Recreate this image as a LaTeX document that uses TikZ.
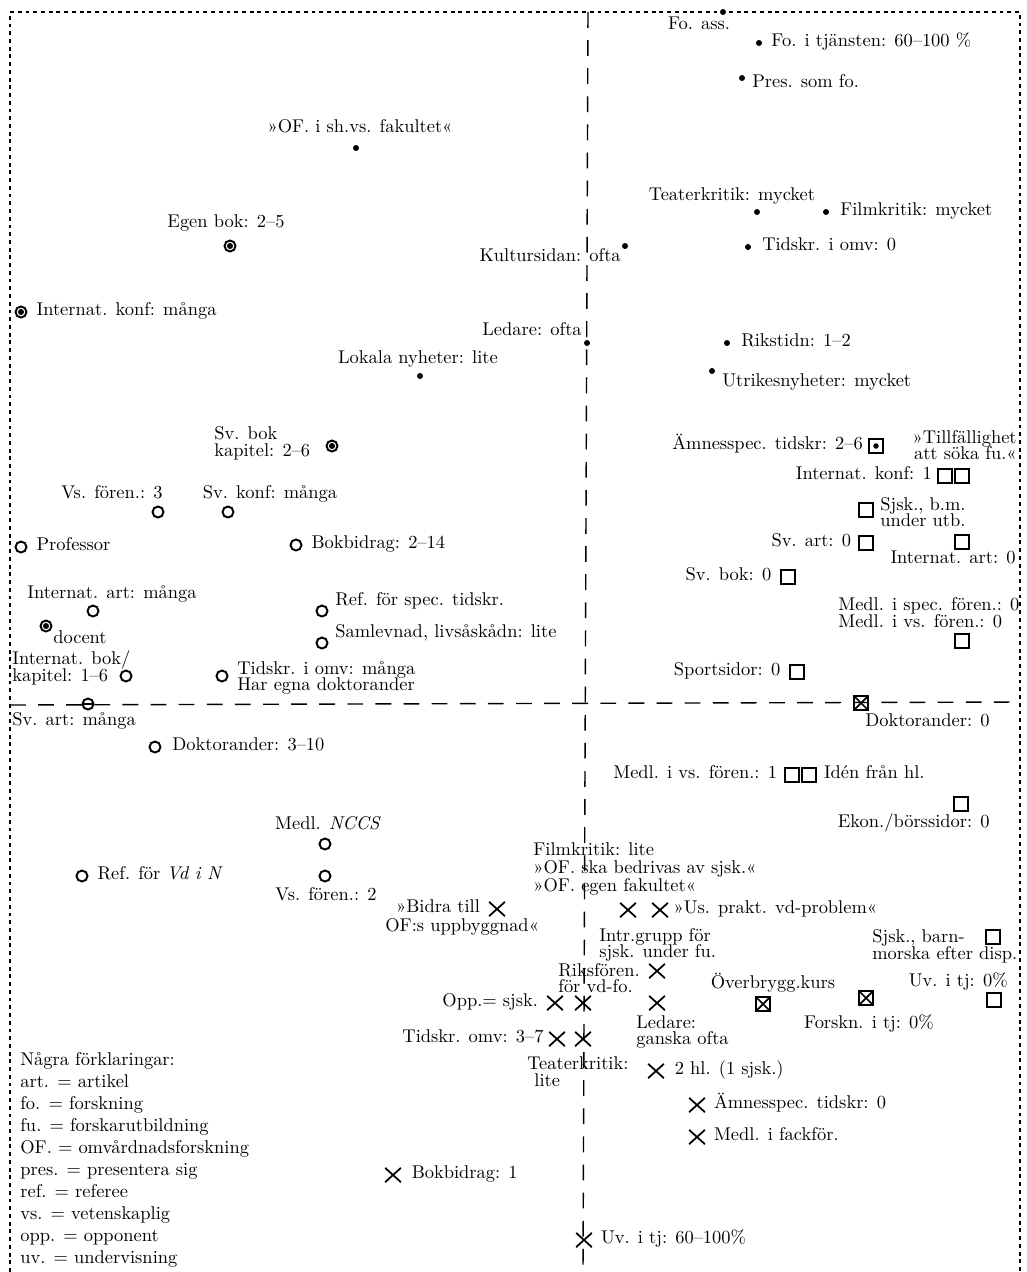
\documentclass[tikz,border=0pt]{standalone}
\usepackage{tikz}
\usetikzlibrary{positioning, shapes.misc}

\newcommand\labfont[1]{\fontsize{10.5}{#1}\selectfont\lineskiplimit=-20pt\relax}

\tikzset{
    lab/.style={inner sep=0pt, font=\labfont{9.5}, align=left},
    labr/.style={lab, anchor=mid west},
    labl/.style={lab, anchor=mid east},
    labc/.style={lab, anchor=mid},
    blockw/.style={lab, anchor=west},
    blocke/.style={lab, anchor=east, align=right},
    dotm/.style={circle, fill, inner sep=0pt, minimum size=0.12cm},
    circm/.style={circle, draw, line width=1.1pt, inner sep=0pt, minimum size=0.22cm},
    cdotm/.style={circm, path picture={\fill (path picture bounding box.center) circle (0.06cm);}},
    thetam/.style={circm, path picture={\draw[line width=1.1pt] (path picture bounding box.west) -- (path picture bounding box.east);}},
    sqm/.style={rectangle, draw, line width=1pt, inner sep=0pt, minimum size=0.27cm},
    sqdotm/.style={sqm, path picture={\fill (path picture bounding box.center) circle (0.055cm);}},
    sqxm/.style={sqm, path picture={\draw[line width=1pt] (path picture bounding box.south west) -- (path picture bounding box.north east) (path picture bounding box.north west) -- (path picture bounding box.south east);}},
    crossm/.style={cross out, draw, line width=1pt, inner sep=0pt, minimum width=0.28cm, minimum height=0.25cm},
    borderline/.style={line width=0.8pt, dash pattern=on 2.2pt off 2.2pt},
    axisline/.style={line width=0.8pt, dash pattern=on 9pt off 7pt}
}

\begin{document}
\begin{tikzpicture}[x=0.02cm, y=-0.02cm]
\useasboundingbox (0,0) rectangle (1027,1272);

% ram och axlar
\draw[borderline] (10,1272) -- (10,12) -- (1020,12) -- (1020,1272);
\draw[axisline] (588,12) -- (583,1272);
\draw[axisline] (10,705) -- (1020,702);

% övre högra kvadranten
\node[dotm] (foass) at (723,12) {};
\node[labc] (foassl) at (699,26) {Fo. ass.};
\node[dotm] (fotj) at (759,43) {};
\node[right=5pt of fotj, labr] (fotjl) {Fo. i tjänsten: 60–100 \%};
\node[dotm] (pres) at (742,78) {};
\node[labr] (presl) at (752,84) {Pres. som fo.};
\node[dotm] (teat) at (757,212) {};
\node[labc] (teatl) at (732,197) {Teaterkritik: mycket};
\node[dotm] (film) at (826,212) {};
\node[right=6pt of film, labr] (filml) {Filmkritik: mycket};
\node[dotm] (tidso) at (748,247) {};
\node[right=6pt of tidso, labr] (tidsol) {Tidskr. i omv: 0};
\node[dotm] (kult) at (625,246) {};
\node[labl] (kultl) at (621,258) {Kultursidan: ofta};
\node[dotm] (led) at (587,343) {};
\node[labl] (ledl) at (582,332) {Ledare: ofta};
\node[dotm] (riks) at (727,343) {};
\node[right=6pt of riks, labr] (riksl) {Rikstidn: 1–2};
\node[dotm] (utr) at (712,371) {};
\node[labr] (utrl) at (722,383) {Utrikesnyheter: mycket};
\node[sqdotm] (amn) at (876,446) {};
\node[left=3pt of amn, labl] (amnl) {Ämnesspec. tidskr: 2–6};
\node[blocke] (tillf) at (1017,445) {»Tillfällighet\\att söka fu.«};
\node[sqm] (ik1) at (945,476) {};
\node[sqm] (ik2) at (962,476) {};
\node[left=3pt of ik1, labl] (ikl) {Internat. konf: 1};
\node[sqm] (sjsk) at (866,510) {};
\node[blockw] (sjskl) at (880,512) {Sjsk., b.m.\\under utb.};
\node[sqm] (sva) at (866,543) {};
\node[left=4pt of sva, labl] (sval) {Sv. art: 0};
\node[sqm] (inta0) at (962,542) {};
\node[labl] (inta0l) at (1016,560) {Internat. art: 0};
\node[sqm] (svb0) at (788,577) {};
\node[left=5pt of svb0, labl] (svb0l) {Sv. bok: 0};
\node[sqm] (medl) at (962,641) {};
\node[blockw] (medll) at (838,613) {Medl. i spec. fören.: 0\\Medl. i vs. fören.: 0};
\node[sqm] (sport) at (797,672) {};
\node[left=5pt of sport, labl] (sportl) {Sportsidor: 0};

% övre vänstra kvadranten
\node[dotm] (ofsh) at (356,148) {};
\node[labc] (ofshl) at (360,129) {»OF. i sh.vs. fakultet«};
\node[cdotm] (egen) at (230,246) {};
\node[labc] (egenl) at (226,224) {Egen bok: 2–5};
\node[cdotm] (intk) at (21,312) {};
\node[right=5pt of intk, labr] (intkl) {Internat. konf: många};
\node[dotm] (lok) at (420,376) {};
\node[labc] (lokl) at (418,360) {Lokala nyheter: lite};
\node[cdotm] (svbok) at (332,446) {};
\node[blockw] (svbokl) at (214,443) {Sv. bok\\kapitel: 2–6};
\node[circm] (vsf3) at (158,512) {};
\node[labc] (vsf3l) at (112,495) {Vs. fören.: 3};
\node[circm] (svk) at (228,512) {};
\node[labc] (svkl) at (270,495) {Sv. konf: många};
\node[circm] (prof) at (21,547) {};
\node[right=5pt of prof, labr] (profl) {Professor};
\node[circm] (bokb) at (296,545) {};
\node[right=5pt of bokb, labr] (bokbl) {Bokbidrag: 2–14};
\node[circm] (inta) at (93,611) {};
\node[labc] (intal) at (112,595) {Internat. art: många};
\node[cdotm] (doc) at (46,626) {};
\node[labr] (docl) at (53,640) {docent};
\node[circm] (intb) at (126,676) {};
\node[blockw] (intbl) at (12,668) {Internat. bok/\\kapitel: 1–6};
\node[circm] (tidsm) at (222,676) {};
\node[blockw] (tidsml) at (237,678) {Tidskr. i omv: många\\Har egna doktorander};
\node[circm] (refs) at (322,611) {};
\node[labr] (refsl) at (335,602) {Ref. för spec. tidskr.};
\node[circm] (saml) at (322,643) {};
\node[labr] (samll) at (335,634) {Samlevnad, livsåskådn: lite};
\node[thetam] (svart) at (88,704) {};
\node[labr] (svartl) at (12,722) {Sv. art: många};

% nedre vänstra kvadranten
\node[circm] (dokt) at (155,747) {};
\node[right=6pt of dokt, labr] (doktl) {Doktorander: 3–10};
\node[circm] (nccs) at (325,844) {};
\node[labc] (nccsl) at (328,826) {Medl. \textit{NCCS}};
\node[circm] (refvd) at (82,876) {};
\node[right=5pt of refvd, labr] (refvdl) {Ref. för \textit{Vd i N}};
\node[circm] (vsf2) at (325,876) {};
\node[labc] (vsf2l) at (326,897) {Vs. fören.: 2};
\node[crossm] (bidra) at (497,909) {};
\node[left=5pt of bidra, labl] (bidral) {»Bidra till};
\node[labr] (bidral2) at (385,928) {OF:s uppbyggnad«};
\node[crossm] (opp) at (555,1003) {};
\node[left=5pt of opp, labl] (oppl) {Opp.= sjsk.};
\node[crossm] (tids) at (557,1039) {};
\node[left=3pt of tids, labl] (tidsl) {Tidskr. omv: 3–7};
\node[crossm] (bokb1) at (393,1175) {};
\node[right=6pt of bokb1, labr] (bokb1l) {Bokbidrag: 1};
\node[blockw, font=\labfont{12.5}] (legend) at (20,1160)
    {Några förklaringar:\\art. = artikel\\fo. = forskning\\fu. = forskarutbildning\\OF. = omvårdnadsforskning\\pres. = presentera sig\\ref. = referee\\vs. = vetenskaplig\\opp. = opponent\\uv. = undervisning};

% nedre högra kvadranten
\node[blockw, font=\labfont{10}] (filmlite) at (533,869) {Filmkritik: lite\\»OF. ska bedrivas av sjsk.«\\»OF. egen fakultet«};
\node[crossm] (us1) at (628,910) {};
\node[crossm] (us2) at (660,910) {};
\node[right=3pt of us2, labr] (usl) {»Us. prakt. vd-problem«};
\node[blockw] (intr) at (599,945) {Intr.grupp för\\sjsk. under fu.};
\node[crossm] (riksf) at (657,971) {};
\node[blockw] (riksfl) at (558,978) {Riksfören.\\för vd-fo.};
\node[crossm] (opp2) at (583,1003) {};
\node[crossm] (leds) at (657,1003) {};
\node[blockw] (ledsl) at (636,1032) {Ledare:\\ganska ofta};
\node[crossm] (tids2) at (583,1039) {};
\node[blockw] (teatlite) at (527,1072) {Teaterkritik:\\\hspace*{4pt}lite};
\node[crossm] (hl) at (656,1071) {};
\node[right=6pt of hl, labr] (hll) {2 hl. (1 sjsk.)};
\node[crossm] (amn0) at (697,1105) {};
\node[right=5pt of amn0, labr] (amn0l) {Ämnesspec. tidskr: 0};
\node[crossm] (fack) at (697,1137) {};
\node[right=5pt of fack, labr] (fackl) {Medl. i fackför.};
\node[crossm] (uv60) at (584,1240) {};
\node[right=5pt of uv60, labr] (uv60l) {Uv. i tj: 60–100\%};
\node[sqxm] (dok0) at (861,703) {};
\node[labl] (dok0l) at (990,723) {Doktorander: 0};
\node[sqm] (mv1) at (792,775) {};
\node[sqm] (mv2) at (809,775) {};
\node[left=4pt of mv1, labl] (mvl) {Medl. i vs. fören.: 1};
\node[right=4pt of mv2, labr] (ideen) {Idén från hl.};
\node[sqm] (ekon) at (961,804) {};
\node[labl] (ekonl) at (990,824) {Ekon./börssidor: 0};
\node[sqm] (barn) at (993,937) {};
\node[blockw] (barnl) at (872,946) {Sjsk., barn-\\morska efter disp.};
\node[sqxm] (overb) at (763,1004) {};
\node[labc] (overbl) at (773,985) {Överbrygg.kurs};
\node[sqxm] (forsk) at (866,998) {};
\node[labc] (forskl) at (869,1025) {Forskn. i tj: 0\%};
\node[sqm] (uv0) at (994,1000) {};
\node[labl] (uv0l) at (1008,983) {Uv. i tj: 0\%};

\end{tikzpicture}
\end{document}
